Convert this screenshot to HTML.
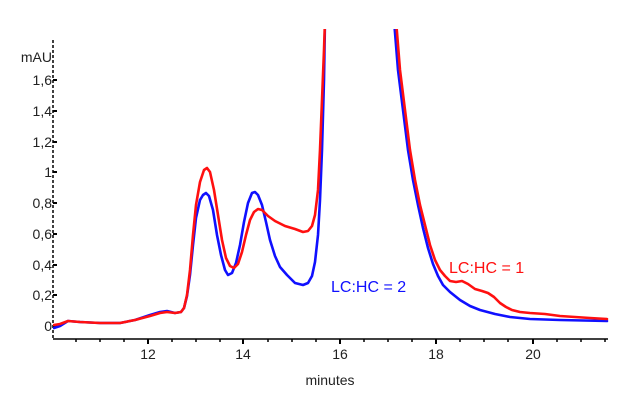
<!DOCTYPE html>
<html><head><meta charset="utf-8"><style>
body{margin:0;background:#fff}
svg{display:block}
text{font-family:"Liberation Sans",Arial,sans-serif}
</style></head><body>
<svg width="640" height="417" viewBox="0 0 640 417" xmlns="http://www.w3.org/2000/svg">
<defs><clipPath id="c"><rect x="53" y="29" width="556" height="310"/></clipPath></defs>
<line x1="53" y1="40" x2="53" y2="339" stroke="#000" stroke-width="1.5" stroke-dasharray="3,2"/>
<line x1="53" y1="339" x2="608" y2="339" stroke="#000" stroke-width="1.5"/>
<g stroke="#000" stroke-width="2">
<line x1="53" y1="326" x2="57" y2="326"/><line x1="53" y1="295" x2="57" y2="295"/><line x1="53" y1="265" x2="57" y2="265"/><line x1="53" y1="234" x2="57" y2="234"/><line x1="53" y1="203" x2="57" y2="203"/><line x1="53" y1="172" x2="57" y2="172"/><line x1="53" y1="142" x2="57" y2="142"/><line x1="53" y1="111" x2="57" y2="111"/><line x1="53" y1="80" x2="57" y2="80"/>
</g>
<g stroke="#000" stroke-width="2">
<line x1="148" y1="339" x2="148" y2="344"/><line x1="243" y1="339" x2="243" y2="344"/><line x1="340" y1="339" x2="340" y2="344"/><line x1="436" y1="339" x2="436" y2="344"/><line x1="533" y1="339" x2="533" y2="344"/>
</g>
<g stroke="#000" stroke-width="1.5">
<line x1="76" y1="339" x2="76" y2="342"/><line x1="100" y1="339" x2="100" y2="342"/><line x1="124" y1="339" x2="124" y2="342"/><line x1="172" y1="339" x2="172" y2="342"/><line x1="196" y1="339" x2="196" y2="342"/><line x1="220" y1="339" x2="220" y2="342"/><line x1="268" y1="339" x2="268" y2="342"/><line x1="292" y1="339" x2="292" y2="342"/><line x1="316" y1="339" x2="316" y2="342"/><line x1="364" y1="339" x2="364" y2="342"/><line x1="388" y1="339" x2="388" y2="342"/><line x1="412" y1="339" x2="412" y2="342"/><line x1="460" y1="339" x2="460" y2="342"/><line x1="484" y1="339" x2="484" y2="342"/><line x1="508" y1="339" x2="508" y2="342"/><line x1="557" y1="339" x2="557" y2="342"/><line x1="581" y1="339" x2="581" y2="342"/><line x1="605" y1="339" x2="605" y2="342"/>
</g>
<g font-size="14" fill="#222" text-anchor="end">
<text x="52" y="62">mAU</text>
<text x="52" y="85">1,6</text><text x="52" y="116">1,4</text><text x="52" y="147">1,2</text><text x="52" y="177">1</text><text x="52" y="208">0,8</text><text x="52" y="239">0,6</text><text x="52" y="270">0,4</text><text x="52" y="300">0,2</text><text x="52" y="331">0</text>
</g>
<g font-size="14" fill="#222" text-anchor="middle">
<text x="148" y="359">12</text><text x="243" y="359">14</text><text x="340" y="359">16</text><text x="436" y="359">18</text><text x="533" y="359">20</text>
<text x="330" y="385">minutes</text>
</g>
<g clip-path="url(#c)" fill="none" stroke-width="2.6" stroke-linejoin="round" stroke-linecap="round">
<polyline stroke="#1010ff" points="54,328 60,326 68,321 80,322 100,323 120,323 135,320 150,315 160,312 167,311 175,313 181,312 184,308 187,296 190,275 193,245 196,218 200,200 203,195 206,193 209,196 213,210 217,235 221,255 225,270 228,275 232,273 236,263 240,245 244,222 248,203 252,193 255,192 258,195 262,205 266,222 270,240 275,256 280,267 287,275 295,283 303,285 308,283 312,276 315,262 318,235 320,200 322,150 324,80 325,20"/>
<polyline stroke="#1010ff" points="394,20 398,70 403,110 408,150 413,180 418,205 423,228 428,248 433,264 438,276 443,285 450,292 460,300 470,306 480,310 495,314 510,317 530,319 560,320 607,321"/>
<polyline stroke="#ff1010" points="54,325 60,324 68,321 80,322 100,323 120,323 135,320 150,316 160,313 167,312 175,313 181,312 184,308 187,295 190,270 193,235 196,205 200,182 204,170 207,168 210,172 214,190 218,215 222,240 226,258 230,266 234,268 238,264 242,252 246,235 250,220 254,212 258,209 262,210 268,216 275,221 285,226 295,229 303,232 308,231 312,226 315,215 318,190 320,150 322,100 324,50 325,20"/>
<polyline stroke="#ff1010" points="396,20 400,70 405,110 410,150 415,180 420,205 425,225 430,245 435,260 440,270 445,276 450,281 456,282 462,281 468,284 475,289 482,291 488,293 494,297 500,303 506,307 512,310 520,312 530,313 545,314 560,316 575,317 590,318 607,319"/>
</g>
<text x="449" y="273" font-size="16" fill="#ff1010">LC:HC = 1</text>
<text x="331" y="292" font-size="16" fill="#1010ff">LC:HC = 2</text>
</svg>
</body></html>
